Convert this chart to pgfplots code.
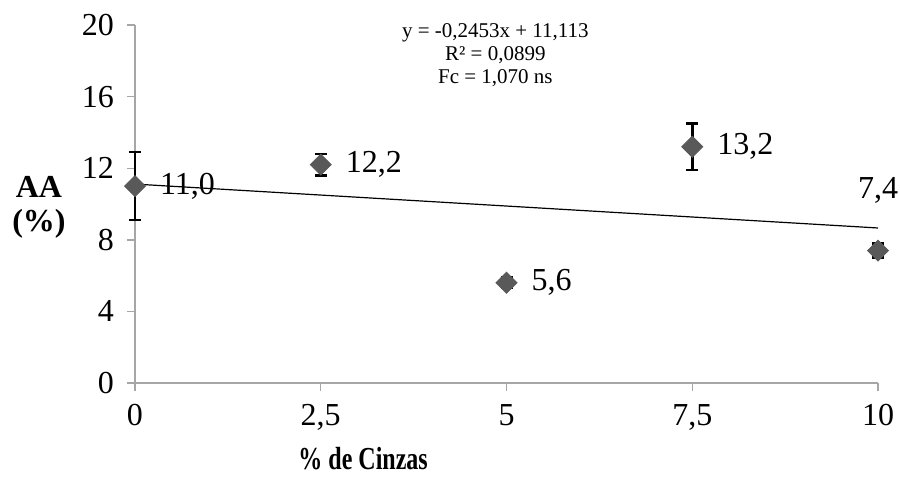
\documentclass[border=0pt]{standalone}
\usepackage{fontspec}
\setmainfont{Liberation Serif}
\usepackage{graphicx}
\usepackage{pgfplots}
\pgfplotsset{compat=1.18}
\definecolor{axgray}{HTML}{A6A6A6}
\definecolor{mk}{HTML}{595959}
\begin{document}
\begin{tikzpicture}
\begin{axis}[
  scale only axis, width=371.5pt, height=179pt,
  xmin=0, xmax=10, ymin=0, ymax=20,
  xtick={0,2.5,5,7.5,10}, ytick={0,4,...,20},
  axis x line*=bottom, axis y line*=left,
  axis line style={axgray, line width=0.7pt, -},
  tick style={axgray, line width=0.7pt},
  tick align=outside, major tick length=4pt,
  /pgf/number format/assume math mode=true,
  /pgf/number format/use comma,
  ticklabel style={font=\fontsize{16}{19}\selectfont},
  xticklabel style={yshift=-3pt},
  yticklabel style={xshift=-3pt},
  clip=false,
  xlabel={\scalebox{0.75}[1]{\textbf{\% de Cinzas}}},
  xlabel style={at={(rel axis cs:0.307,0)}, anchor=north, yshift=-32pt, font=\fontsize{16}{18}\selectfont, inner sep=0pt},
  ylabel={\textbf{AA}\\\textbf{(\%)}},
  ylabel style={at={(axis cs:0,9.8)}, anchor=center, rotate=-90, xshift=-48pt, align=center, font=\fontsize{16}{17}\selectfont},
]
\coordinate (bl) at (rel axis cs:0,0);
% trend line
\addplot[black, line width=0.6pt] coordinates {(0,11.113) (10,8.66)};
% data with error bars
\addplot[only marks, mark=square*, mark size=3.7pt, mark options={fill=mk, draw=mk, rotate=45},
  error bars/.cd, y dir=both, y explicit,
  error bar style={black, line width=1.3pt},
  error mark options={black, line width=1.3pt, mark size=3pt, rotate=90}]
  coordinates {
  (0,11.0) +- (0,1.9)
  (2.5,12.2) +- (0,0.6)
  (5,5.6) +- (0,0.3)
  (7.5,13.2) +- (0,1.3)
  (10,7.4) +- (0,0.4)
  };
% labels right
\addplot[only marks, mark=none, nodes near coords, point meta=explicit symbolic,
  every node near coord/.append style={anchor=west, xshift=9pt, font=\fontsize{16}{19}\selectfont}]
  table[meta=lab] {
  x y lab
  0 11.0 11,0
  2.5 12.2 12,2
  5 5.6 5,6
  7.5 13.2 13,2
  };
% label above
\addplot[only marks, mark=none, nodes near coords, point meta=explicit symbolic,
  every node near coord/.append style={anchor=south, yshift=20pt, font=\fontsize{16}{19}\selectfont}]
  table[meta=lab] {
  x y lab
  10 7.4 7,4
  };
\node[anchor=north, align=center, font=\fontsize{10.5}{11.3}\selectfont] at (axis cs:4.85,20.45)
  {y = -0,2453x + 11,113\\R² = 0,0899\\Fc = 1,070 ns};
\end{axis}
\pgfresetboundingbox
\path (bl) ++(-67.5pt,-47pt) rectangle ++(450pt,238.5pt);
\end{tikzpicture}
\end{document}
